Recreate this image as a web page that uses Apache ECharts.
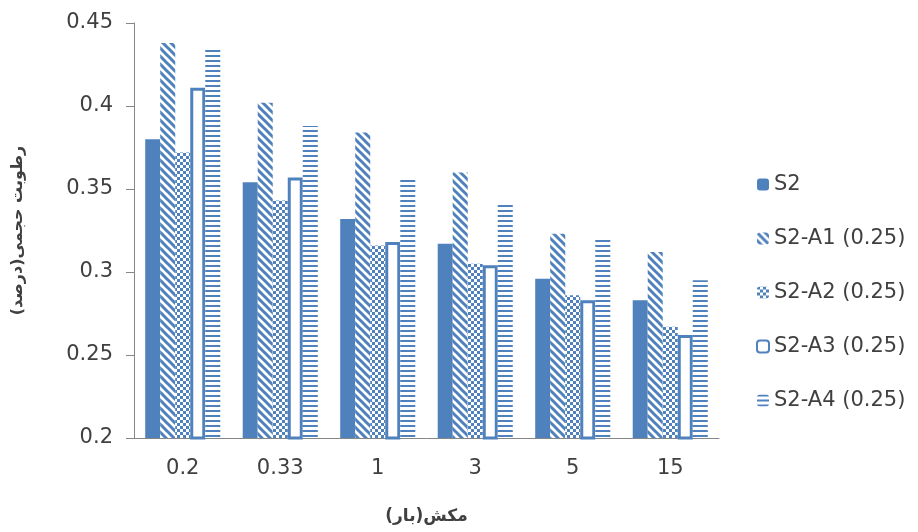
<!DOCTYPE html>
<html><head><meta charset="utf-8">
<script src="https://cdn.jsdelivr.net/npm/echarts@6/dist/echarts.min.js"></script>
<style>html,body{margin:0;padding:0;background:#fff}#c{width:918px;height:532px}</style>
</head><body><div id="c"></div>
<script>
var categories = ['0.2', '0.33', '1', '3', '5', '15'];
var seriesNames = ['S2', 'S2-A1 (0.25)', 'S2-A2 (0.25)', 'S2-A3 (0.25)', 'S2-A4 (0.25)'];
var s2 = [0.380, 0.354, 0.332, 0.317, 0.296, 0.283];
var a1 = [0.438, 0.402, 0.384, 0.360, 0.323, 0.312];
var a2 = [0.372, 0.343, 0.316, 0.305, 0.286, 0.267];
var a3 = [0.411, 0.357, 0.318, 0.304, 0.283, 0.262];
var a4 = [0.434, 0.388, 0.357, 0.342, 0.320, 0.295];

var BLUE = '#4F81BD';
function mk(w, h, draw) {
  var c = document.createElement('canvas'); c.width = w; c.height = h;
  var g = c.getContext('2d'); g.fillStyle = '#fff'; g.fillRect(0, 0, w, h);
  draw(g); return c;
}
var diag = mk(8, 8, function (g) {
  g.strokeStyle = BLUE; g.lineWidth = 3; g.lineCap = 'square';
  g.beginPath();
  g.moveTo(-2, -2); g.lineTo(10, 10);
  g.moveTo(-10, -2); g.lineTo(2, 10);
  g.moveTo(6, -2); g.lineTo(18, 10);
  g.stroke();
});
var check = mk(6, 6, function (g) {
  g.fillStyle = BLUE;
  g.fillRect(0, 0, 3, 3); g.fillRect(3, 3, 3, 3);
});
var hlines = mk(4, 5, function (g) {
  g.fillStyle = BLUE; g.fillRect(0, 0, 4, 2);
});

var chart = echarts.init(document.getElementById('c'));
var FONT = 'DejaVu Sans';
chart.setOption({
  animation: false,
  backgroundColor: '#fff',
  grid: { left: 134, right: 199, top: 23, bottom: 94 },
  legend: {
    orient: 'vertical', left: 751, top: 169,
    itemWidth: 12, itemHeight: 12, itemGap: 33,
    textStyle: { fontFamily: FONT, fontSize: 21, color: '#404040' },
    data: seriesNames
  },
  xAxis: {
    type: 'category', data: categories,
    name: 'مکش(بار)', nameLocation: 'middle', nameGap: 70,
    nameTextStyle: { fontFamily: 'DejaVu Sans', fontSize: 17, fontWeight: 'bold', color: '#404040' },
    axisLine: { lineStyle: { color: '#868686', width: 1 } },
    axisTick: { length: 8, lineStyle: { color: '#868686' } },
    axisLabel: { fontFamily: FONT, fontSize: 21, color: '#404040', margin: 20 }
  },
  yAxis: {
    type: 'value', min: 0.2, max: 0.45, interval: 0.05,
    name: 'رطوبت حجمی(درصد)', nameLocation: 'middle', nameGap: 108, nameRotate: 90,
    nameTextStyle: { fontFamily: 'DejaVu Sans', fontSize: 16, fontWeight: 'bold', color: '#404040' },
    axisLine: { show: true, lineStyle: { color: '#868686', width: 1 } },
    axisTick: { show: true, length: 8, lineStyle: { color: '#868686' } },
    splitLine: { show: false },
    axisLabel: { fontFamily: FONT, fontSize: 21, color: '#404040', margin: 21 }
  },
  series: [
    { name: seriesNames[0], type: 'bar', data: s2, barGap: '0%', barCategoryGap: '23%', itemStyle: { color: BLUE } },
    { name: seriesNames[1], type: 'bar', data: a1, itemStyle: { color: { image: diag, repeat: 'repeat' } } },
    { name: seriesNames[2], type: 'bar', data: a2, itemStyle: { color: { image: check, repeat: 'repeat' } } },
    { name: seriesNames[3], type: 'bar', data: a3, itemStyle: { color: '#fff', borderColor: BLUE, borderWidth: 3 } },
    { name: seriesNames[4], type: 'bar', data: a4, itemStyle: { color: { image: hlines, repeat: 'repeat' } } }
  ]
});
</script></body></html>
